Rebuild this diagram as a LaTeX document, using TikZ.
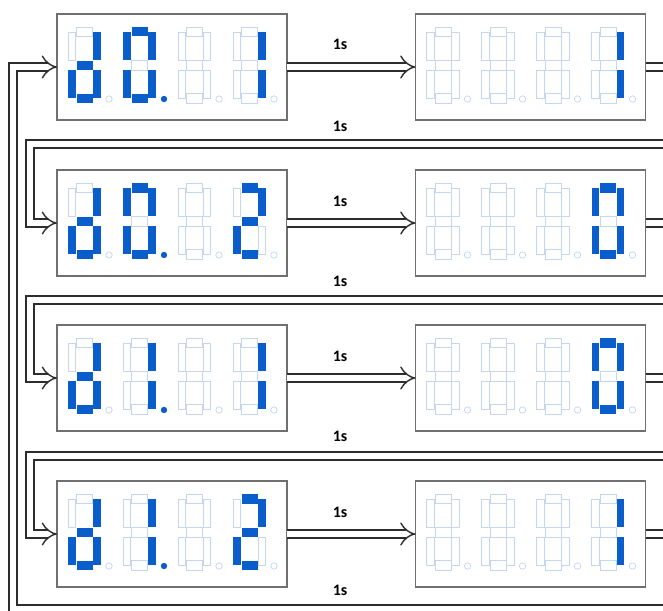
\documentclass[tikz,border=0pt]{standalone}
\usepackage{fontspec}
\newfontfamily\lblfont{Carlito}
\usetikzlibrary{arrows.meta}
\definecolor{segblue}{RGB}{10,94,204}
\definecolor{segpale}{RGB}{196,214,240}
\definecolor{framec}{RGB}{112,112,112}
\definecolor{wire}{RGB}{45,45,45}
\tikzset{
  segon/.style={fill=segblue, draw=none},
  segoff/.style={draw=segpale, line width=0.7pt},
  sega/.style={segoff}, segb/.style={segoff}, segc/.style={segoff},
  segd/.style={segoff}, sege/.style={segoff}, segf/.style={segoff},
  segg/.style={segoff}, segdp/.style={segoff},
  lit/.style={seg#1/.style={segon}},
  digD/.style={lit/.list={b,c,d,e,g}},
  dig0/.style={lit/.list={a,b,c,d,e,f}},
  dig0p/.style={lit/.list={a,b,c,d,e,f,dp}},
  dig1/.style={lit/.list={b,c}},
  dig1p/.style={lit/.list={b,c,dp}},
  dig2/.style={lit/.list={a,b,g,e,d}},
  digX/.style={},
  pics/digit/.style={code={
    \path[sega] (8.5,0) rectangle (24.5,9.5);
    \path[segb] (25,5) rectangle (32.5,33);
    \path[segc] (25,43) rectangle (32.5,71);
    \path[segd] (8.5,66.5) rectangle (24.5,76);
    \path[sege] (0,43) rectangle (7.5,71);
    \path[segf] (0,5) rectangle (7.5,33);
    \path[segg] (8.5,33.5) rectangle (24.5,43);
    \path[segdp] (41,72) circle (3.2);
  }},
  dispbox/.style={draw=framec, line width=1.4pt, fill=white, minimum width=230pt,
    minimum height=106pt, inner sep=0pt, outer sep=0pt},
  dbl/.style={draw=wire, line width=1.4pt, double=white, double distance=6.8pt},
  dblarrow/.style={dbl, -{Implies[scale=1.25]}},
  tlabel/.style={font=\lblfont\bfseries\fontsize{16}{16}\selectfont, inner sep=0pt},
}
\newcommand\showdisp[6]{%
  \pic[#3] at (#1+11,#2+13) {digit};
  \pic[#4] at (#1+66,#2+13) {digit};
  \pic[#5] at (#1+121,#2+13) {digit};
  \pic[#6] at (#1+176,#2+13) {digit};
}
\begin{document}
\begin{tikzpicture}[x=1pt,y=-1pt]
\useasboundingbox (0,0) rectangle (663,610);
\clip (0,0) rectangle (663,610);
% boxes
\node[dispbox] (L1) at (172,67) {};
\node[dispbox] (R1) at (530.5,67) {};
\node[dispbox] (L2) at (172,223) {};
\node[dispbox] (R2) at (530.5,223) {};
\node[dispbox] (L3) at (172,378) {};
\node[dispbox] (R3) at (530.5,378) {};
\node[dispbox] (L4) at (172,534) {};
\node[dispbox] (R4) at (530.5,534) {};
% digits
\showdisp{57}{14}{digD}{dig0p}{digX}{dig1}
\showdisp{415.5}{14}{digX}{digX}{digX}{dig1}
\showdisp{57}{170}{digD}{dig0p}{digX}{dig2}
\showdisp{415.5}{170}{digX}{digX}{digX}{dig0}
\showdisp{57}{325}{digD}{dig1p}{digX}{dig1}
\showdisp{415.5}{325}{digX}{digX}{digX}{dig0}
\showdisp{57}{481}{digD}{dig1p}{digX}{dig2}
\showdisp{415.5}{481}{digX}{digX}{digX}{dig1}
% forward arrows
\draw[dblarrow] (L1.east) -- (R1.west);
\draw[dblarrow] (L2.east) -- (R2.west);
\draw[dblarrow] (L3.east) -- (R3.west);
\draw[dblarrow] (L4.east) -- (R4.west);
% return paths
\coordinate (e1) at (700,67);  \coordinate (b1) at (700,144);
\coordinate (e2) at (700,223); \coordinate (b2) at (700,300);
\coordinate (e3) at (700,378); \coordinate (b3) at (700,456);
\coordinate (e4) at (700,534); \coordinate (b4) at (700,609);
\draw[dblarrow] (R1.east) -- (e1) -- (b1) -- (30,144) -- (30,223) -- (L2.west);
\draw[dblarrow] (R2.east) -- (e2) -- (b2) -- (30,300) -- (30,378) -- (L3.west);
\draw[dblarrow] (R3.east) -- (e3) -- (b3) -- (30,456) -- (30,534) -- (L4.west);
\draw[dblarrow] (R4.east) -- (e4) -- (b4) -- (13,609) -- (13,67) -- (L1.west);
% labels
\node[tlabel] (t1) at (340,44) {1s};
\node[tlabel] (u1) at (340,126) {1s};
\node[tlabel] (t2) at (340,201) {1s};
\node[tlabel] (u2) at (340,281) {1s};
\node[tlabel] (t3) at (340,356) {1s};
\node[tlabel] (u3) at (340,436) {1s};
\node[tlabel] (t4) at (340,512) {1s};
\node[tlabel] (u4) at (340,590) {1s};
\end{tikzpicture}
\end{document}
